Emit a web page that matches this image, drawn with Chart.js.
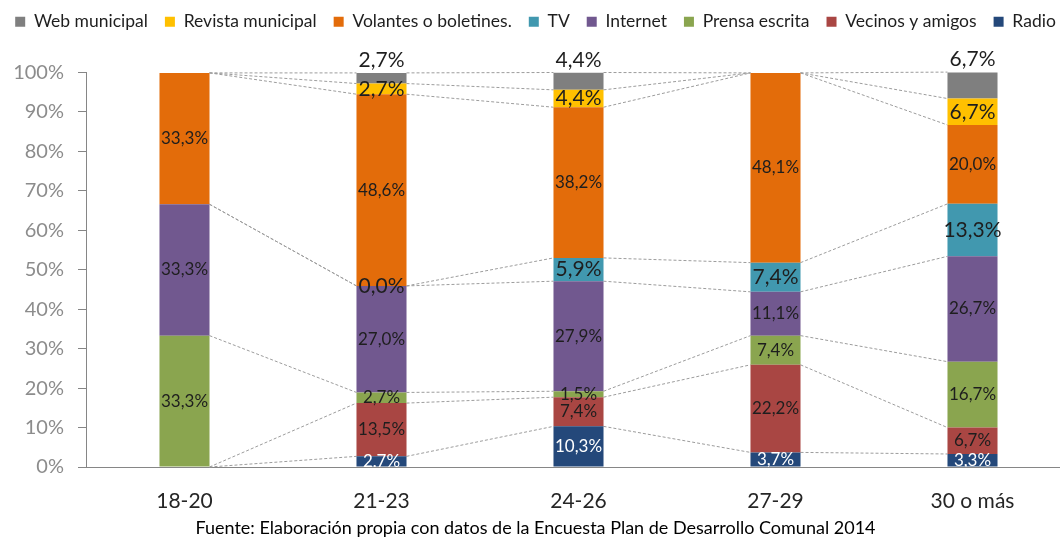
<!DOCTYPE html>
<html lang="es">
<head>
<meta charset="utf-8">
<script src="https://cdn.jsdelivr.net/npm/chart.js@4.4.1/dist/chart.umd.min.js"></script>
<style>
  html, body { margin: 0; padding: 0; background: #fff; overflow: hidden; }
  #wrap { position: relative; width: 1060px; height: 537px; overflow: hidden; }
  #box { position: absolute; left: 0; top: 0; width: 1080px; height: 537px; }
</style>
</head>
<body>
<div id="wrap"><div id="box"><canvas id="chart"></canvas></div></div>
<script>
// Age groups and share (%) of each information source, null = no answers
const ageGroups = ['18-20', '21-23', '24-26', '27-29', '30 o más'];
const radio    = [null, 2.7, 10.3, 3.7, 3.3];
const vecinos  = [null, 13.5, 7.4, 22.2, 6.7];
const prensa   = [33.3, 2.7, 1.5, 7.4, 16.7];
const internet = [33.3, 27.0, 27.9, 11.1, 26.7];
const tv       = [null, 0.0, 5.9, 7.4, 13.3];
const volantes = [33.3, 48.6, 38.2, 48.1, 20.0];
const revista  = [null, 2.7, 4.4, null, 6.7];
const web      = [null, 2.7, 4.4, null, 6.7];
const yTickStep = 10;

const FONT = 'Lato, "Open Sans", sans-serif';

function fmtPct(v) {
    return v.toFixed(1).replace('.', ',') + '%';
}

// stacked bottom to top
const datasets = [
    { label: 'Radio', data: radio, backgroundColor: '#24487a', labelSize: 17, labelColor: '#ffffff' },
    { label: 'Vecinos y amigos', data: vecinos, backgroundColor: '#a94643', labelSize: 17, labelColor: '#1e1e1e' },
    { label: 'Prensa escrita', data: prensa, backgroundColor: '#8aa54f', labelSize: 17, labelColor: '#1e1e1e' },
    { label: 'Internet', data: internet, backgroundColor: '#71588f', labelSize: 17, labelColor: '#1e1e1e' },
    { label: 'TV', data: tv, backgroundColor: '#4198af', labelSize: 21, labelColor: '#1e1e1e' },
    { label: 'Volantes o boletines.', data: volantes, backgroundColor: '#e36c0a', labelSize: 17, labelColor: '#1e1e1e' },
    { label: 'Revista municipal', data: revista, backgroundColor: '#ffc000', labelSize: 21, labelColor: '#1e1e1e' },
    { label: 'Web municipal', data: web, backgroundColor: '#7f7f7f', labelSize: 21, labelColor: '#1e1e1e', labelAbove: true }
];

function barHalfWidth(chart) {
    for (let i = 0; i < chart.data.datasets.length; i++) {
        const els = chart.getDatasetMeta(i).data;
        for (const el of els) {
            if (el && isFinite(el.width) && el.width > 0) return el.width / 2;
        }
    }
    return 0;
}

// keep the legend on one row (it runs past the right edge) and
// leave extra room between it and the plot
const legendGap = {
    id: 'legendGap',
    beforeInit(chart) {
        const legend = chart.legend;
        const fit = legend.fit;
        const draw = legend.draw;
        legend.fit = function () {
            this.maxWidth += 80;
            fit.call(this);
            this.height += 32;
        };
        legend.draw = function () {
            const { left, right } = this;
            this.left -= 80;
            this.right += 80;
            draw.call(this);
            this.left = left;
            this.right = right;
        };
    }
};

// dashed series lines joining the top of each segment across groups
const seriesLines = {
    id: 'seriesLines',
    beforeDatasetsDraw(chart) {
        const { ctx, scales: { x, y } } = chart;
        const n = chart.data.labels.length;
        const half = barHalfWidth(chart);
        let cum = new Array(n).fill(0);
        ctx.save();
        ctx.setLineDash([3, 2]);
        ctx.strokeStyle = '#9c9c9c';
        ctx.lineWidth = 1;
        ctx.beginPath();
        chart.data.datasets.forEach(ds => {
            cum = cum.map((c, j) => c + (ds.data[j] || 0));
            for (let j = 0; j < n - 1; j++) {
                ctx.moveTo(x.getPixelForValue(j) + half, y.getPixelForValue(cum[j]));
                ctx.lineTo(x.getPixelForValue(j + 1) - half, y.getPixelForValue(cum[j + 1]));
            }
        });
        ctx.stroke();
        ctx.restore();
    }
};

// value labels inside each segment (web municipal sits above the bar)
const segmentLabels = {
    id: 'segmentLabels',
    afterDatasetsDraw(chart) {
        const { ctx, chartArea } = chart;
        chart.data.datasets.forEach((ds, i) => {
            const meta = chart.getDatasetMeta(i);
            meta.data.forEach((bar, j) => {
                const v = ds.data[j];
                if (v === null || v === undefined) return;
                ctx.save();
                ctx.font = ds.labelSize + 'px ' + FONT;
                ctx.fillStyle = ds.labelColor;
                ctx.textAlign = 'center';
                if (ds.labelAbove) {
                    ctx.textBaseline = 'bottom';
                    ctx.fillText(fmtPct(v), bar.x, Math.min(bar.y, bar.base) - 2);
                } else {
                    ctx.beginPath();
                    ctx.rect(chartArea.left, chartArea.top, chartArea.width, chartArea.height);
                    ctx.clip();
                    ctx.textBaseline = 'middle';
                    ctx.fillText(fmtPct(v), bar.x, (bar.y + bar.base) / 2);
                }
                ctx.restore();
            });
        });
    }
};

const chart = new Chart(document.getElementById('chart'), {
    type: 'bar',
    data: {
        labels: ageGroups,
        datasets: datasets.map(d => Object.assign({ borderWidth: 0, barPercentage: 0.254, categoryPercentage: 1 }, d))
    },
    options: {
        responsive: true,
        maintainAspectRatio: false,
        animation: false,
        layout: { padding: { left: 0, right: 9, top: -4, bottom: 0 } },
        plugins: {
            legend: {
                position: 'top',
                reverse: true,
                labels: {
                    boxWidth: 10,
                    boxHeight: 10,
                    padding: 17,
                    color: '#1e1e1e',
                    font: { family: FONT, size: 17.5 }
                }
            },
            title: {
                display: true,
                position: 'bottom',
                text: 'Fuente: Elaboración propia con datos de la Encuesta Plan de Desarrollo Comunal 2014',
                color: '#000000',
                font: { family: FONT, size: 18, weight: 'normal', lineHeight: 1 },
                padding: { top: 0, bottom: 0 }
            },
            tooltip: { enabled: false }
        },
        scales: {
            x: {
                stacked: true,
                afterFit(scale) { scale.height = 52; },
                grid: { display: false, drawTicks: false },
                border: { color: '#868686' },
                ticks: { color: '#262626', font: { family: FONT, size: 21 }, padding: 22 }
            },
            y: {
                stacked: true,
                min: 0,
                max: 100,
                afterFit(scale) { scale.width = 86; },
                grid: { drawOnChartArea: false, tickLength: 8, color: '#868686' },
                border: { color: '#868686' },
                ticks: {
                    stepSize: yTickStep,
                    padding: 14,
                    color: '#8c8c8c',
                    font: { family: FONT, size: 20 },
                    callback: v => v + '%'
                }
            }
        }
    },
    plugins: [legendGap, seriesLines, segmentLabels]
});
</script>
</body>
</html>
